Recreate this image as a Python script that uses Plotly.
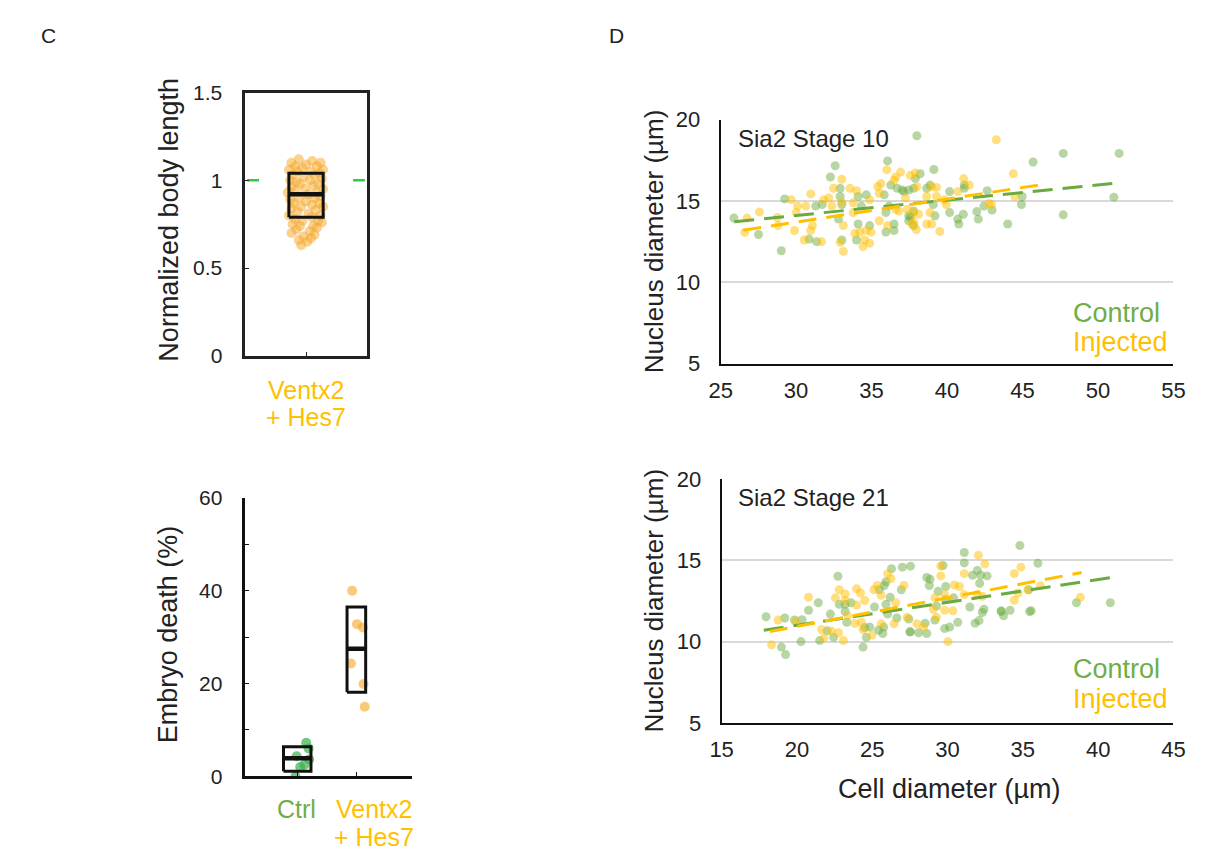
import plotly.graph_objects as go

W, H = 1208, 864
FONT = "Liberation Sans, Arial, sans-serif"
GREEN_TXT = "#70AD47"
GOLD_TXT = "#FFC000"
TXT = "#222222"

# ---------------- Panel C (top): normalized body length ----------------
body_len = [
    1.12, 1.11, 1.10, 1.10, 1.09, 1.08, 1.08, 1.07, 1.06, 1.06,
    1.05, 1.05, 1.04, 1.03, 1.03, 1.02, 1.01, 1.00, 1.00, 0.99,
    0.98, 0.98, 0.97, 0.96, 0.95, 0.95, 0.94, 0.93, 0.93, 0.92,
    0.91, 0.90, 0.90, 0.89, 0.88, 0.87, 0.87, 0.86, 0.85, 0.85,
    0.84, 0.83, 0.82, 0.81, 0.80, 0.80, 0.79, 0.78, 0.77, 0.77,
    0.76, 0.75, 0.74, 0.74, 0.73, 0.72, 0.71, 0.70, 0.69, 0.68,
    0.67, 0.66, 0.65, 0.63]
body_jit = [
    -0.06, 0.05, -0.12, 0.12, 0.00, -0.09, 0.09, -0.03, 0.14, -0.14,
    0.04, -0.07, 0.11, -0.11, 0.07, -0.02, 0.13, -0.13, 0.03, -0.08,
    0.10, -0.05, 0.06, -0.12, 0.14, -0.01, -0.09, 0.09, -0.15, 0.02,
    0.12, -0.06, 0.07, -0.13, 0.00, 0.11, -0.10, 0.05, -0.04, 0.14,
    -0.12, 0.08, -0.07, 0.02, 0.12, -0.14, 0.05, -0.09, 0.10, -0.03,
    0.13, -0.11, 0.06, -0.05, 0.09, -0.08, 0.03, -0.12, 0.07, -0.02,
    0.04, -0.06, 0.01, -0.04]
body_box = {"q1": 0.79, "median": 0.92, "q3": 1.04}
body_ref = 1.0

# ---------------- Panel C (bottom): embryo death ----------------
death_ctrl = [0.0, 7.2, 6.0, 4.3, 2.5, 3.6, 2.0]
death_ctrl_jit = [-0.03, 0.15, 0.19, -0.01, 0.12, 0.20, 0.05]
death_inj = [40.0, 32.8, 32.1, 24.3, 19.9, 15.0]
death_inj_jit = [-0.08, 0.00, 0.10, -0.10, 0.11, 0.13]
death_box_ctrl = {"q1": 1.1, "median": 3.9, "q3": 6.35}
death_box_inj = {"q1": 18.1, "median": 27.5, "q3": 36.5}

# ---------------- Panel D (top): Stage 10 ----------------
s10_ctrl_x = [25.88, 27.51, 29.24, 29.02, 31.3, 31.73, 30.86, 31.36, 32.27, 32.59,
              32.92, 32.92, 33.03, 32.81, 33.03, 34.11, 34.11, 34.0, 34.32, 34.65,
              34.87, 35.84, 36.06, 36.27, 36.7, 37.03, 36.16, 35.95, 36.49, 36.49,
              35.95, 37.57, 38.0, 38.22, 37.9, 39.13, 38.87, 38.65, 37.14, 37.46,
              37.79, 41.14, 41.14, 40.17, 42.66, 39.09, 37.79, 39.2, 40.17, 37.46,
              37.46, 37.79, 40.71, 40.78, 41.08, 41.97, 42.07, 42.44, 42.98, 44.02,
              44.97, 44.93, 47.7, 51.4, 45.7, 51.05, 47.7]
s10_ctrl_y = [13.95, 12.94, 15.13, 11.94, 14.69, 14.79, 12.66, 12.5, 16.48, 17.17,
              15.78, 15.28, 14.79, 13.89, 12.6, 15.28, 13.59, 12.6, 14.69, 15.38,
              13.49, 15.38, 17.47, 15.98, 15.78, 15.68, 14.69, 14.29, 13.59, 13.19,
              13.09, 13.99, 19.02, 16.68, 16.38, 16.94, 15.98, 15.78, 15.58, 15.68,
              15.78, 15.98, 15.78, 15.58, 15.64, 14.79, 14.39, 14.09, 14.29, 14.09,
              13.79, 13.49, 13.89, 13.59, 14.19, 14.35, 13.89, 14.69, 14.45, 13.59,
              15.28, 14.79, 17.93, 17.93, 17.4, 15.24, 14.15]
s10_inj_x = [26.75, 26.6, 27.57, 29.67, 30.1, 30.0, 28.76, 28.8, 29.89, 30.64,
             30.97, 31.83, 31.08, 30.97, 30.54, 31.68, 33.03, 32.48, 32.16, 32.38,
             33.03, 33.13, 32.92, 33.13, 33.57, 34.0, 33.78, 33.78, 33.89, 34.22,
             34.87, 34.65, 34.97, 34.54, 34.87, 34.43, 35.41, 35.62, 35.51, 36.01,
             36.49, 36.6, 36.92, 37.25, 37.57, 36.6, 35.51, 36.06, 37.79, 37.68,
             43.26, 44.39, 37.9, 38.98, 39.3, 38.0, 41.1, 41.47, 40.71, 38.65,
             39.3, 39.84, 39.95, 36.81, 37.36, 38.11, 38.87, 37.79, 37.96, 38.65,
             38.98, 39.52, 42.77, 42.94, 44.5]
s10_inj_y = [13.95, 13.07, 14.33, 15.08, 14.69, 14.29, 13.99, 13.49, 13.19, 14.69,
             15.44, 15.08, 13.49, 13.19, 12.6, 12.5, 16.34, 15.78, 15.18, 14.69,
             14.93, 13.49, 12.46, 11.9, 15.78, 15.64, 14.89, 14.29, 13.0, 13.09,
             15.08, 13.19, 13.09, 12.6, 12.4, 12.2, 15.88, 16.08, 15.48, 16.92,
             16.28, 16.48, 16.78, 15.18, 16.58, 14.49, 13.79, 13.49, 14.29, 13.59,
             18.77, 16.68, 16.72, 15.88, 15.84, 15.88, 16.38, 15.98, 15.58, 15.28,
             15.28, 15.08, 14.79, 14.39, 14.49, 14.19, 14.29, 13.69, 13.23, 13.59,
             13.59, 13.13, 14.85, 14.79, 15.28]
s10_trend_ctrl_x = [25.9, 51.6]
s10_trend_ctrl_y = [13.73, 16.14]
s10_trend_inj_x = [26.5, 46.45]
s10_trend_inj_y = [13.2, 16.04]

# ---------------- Panel D (bottom): Stage 21 ----------------
s21_ctrl_x = [17.95, 19.19, 18.97, 19.25, 19.84, 20.34, 20.27, 20.77, 21.42, 21.51,
              22.01, 22.44, 22.22, 22.72, 22.81, 23.2, 23.59, 23.2, 23.31, 24.5,
              24.83, 24.61, 24.39, 25.15, 25.48, 25.8, 25.91, 26.28, 26.19, 25.91,
              26.02, 25.41, 25.76, 25.7, 26.63, 27.0, 27.54, 26.93, 27.54,
              34.8, 31.11, 31.11, 31.66, 31.98, 32.2, 32.13, 32.63, 29.7, 28.62,
              28.84, 28.79, 29.38, 29.88, 30.4, 29.88, 29.27, 31.48, 32.42, 32.31,
              33.56, 34.15, 35.45, 29.16, 30.68, 29.81, 30.14, 28.51, 28.62, 28.08,
              27.49, 27.43, 31.83, 32.09, 36.0, 35.39, 33.57, 33.72, 35.56, 38.56, 40.81]
s21_ctrl_y = [11.53, 11.45, 9.66, 9.2, 11.33, 11.35, 10.0, 11.93, 12.39, 10.06,
              10.66, 10.26, 11.69, 14.02, 12.29, 12.29, 12.39, 11.85, 11.19, 10.86,
              10.89, 10.26, 9.66, 12.13, 13.19, 13.45, 13.68, 14.48, 12.73, 12.29,
              11.69, 10.7, 10.89, 10.5, 11.45, 14.58, 14.64, 13.19, 10.6,
              15.91, 15.48, 14.84, 14.08, 14.38, 14.08, 13.58, 14.04, 14.68, 13.94,
              13.84, 13.45, 13.09, 13.39, 12.69, 12.59, 12.19, 12.13, 11.99, 11.79,
              11.85, 11.93, 11.85, 11.33, 11.19, 10.8, 10.89, 11.13, 10.5, 10.54,
              10.6, 11.39, 11.13, 11.29, 14.82, 13.19, 11.89, 11.59, 11.89, 12.39, 12.39]
s21_inj_x = [18.75, 18.32, 19.95, 20.77, 21.64, 21.79, 22.29, 22.77, 23.09, 22.55,
             22.81, 23.2, 23.2, 23.37, 23.96, 24.22, 23.96, 24.5, 23.85, 24.28,
             24.39, 24.98, 25.11, 25.33, 25.59, 26.02, 26.24, 25.59, 26.45, 26.56,
             27.1, 27.32, 32.05, 32.48, 31.11, 34.87, 34.43, 29.55, 29.55, 30.46,
             30.79, 31.11, 29.81, 29.16, 29.05, 29.81, 30.35, 31.98, 32.31, 34.69,
             35.34, 29.27, 28.4, 27.97, 30.03, 36.17, 34.43, 38.82]
s21_inj_y = [11.33, 9.8, 11.25, 12.73, 10.74, 10.2, 10.64, 10.54, 10.06, 12.69,
             13.19, 12.93, 12.53, 11.59, 13.25, 12.99, 12.25, 12.53, 11.13, 11.19,
             10.74, 10.4, 13.19, 13.45, 12.85, 14.18, 13.88, 11.09, 11.09, 12.39,
             13.45, 11.49, 15.32, 14.78, 14.18, 14.58, 14.18, 14.64, 14.04, 13.48,
             13.39, 12.89, 12.89, 12.69, 11.99, 11.93, 11.89, 12.89, 12.79, 12.99,
             13.19, 11.49, 10.89, 11.09, 10.0, 13.43, 12.55, 12.73]
s21_trend_ctrl_x = [17.8, 40.9]
s21_trend_ctrl_y = [10.7, 13.95]
s21_trend_inj_x = [18.2, 38.9]
s21_trend_inj_y = [10.62, 14.25]

# ============================================================
fig = go.Figure()

def box_path(center, half, st):
    xs = [center - half, center + half, center + half, center - half, center - half]
    ys = [st["q1"], st["q1"], st["q3"], st["q3"], st["q1"]]
    return xs, ys

# --- C top
fig.add_trace(go.Scatter(
    x=[1 + j for j in body_jit], y=body_len, mode="markers",
    marker=dict(size=10, color="rgba(245,166,35,0.5)", line=dict(width=0)),
    xaxis="x", yaxis="y"))
bx, by = box_path(1, 0.141, body_box)
fig.add_trace(go.Scatter(x=bx, y=by, mode="lines", line=dict(color="#111111", width=3),
                         xaxis="x", yaxis="y"))
fig.add_trace(go.Scatter(x=[1 - 0.141, 1 + 0.141], y=[body_box["median"]] * 2, mode="lines",
                         line=dict(color="#111111", width=4.5), xaxis="x", yaxis="y"))
fig.add_trace(go.Scatter(x=[0.516, 0.613, None, 1.387, 1.484],
                         y=[body_ref, body_ref, None, body_ref, body_ref], mode="lines",
                         line=dict(color="#2ECC40", width=2.5), xaxis="x", yaxis="y"))

# --- C bottom
fig.add_trace(go.Scatter(
    x=[1 + j for j in death_ctrl_jit], y=death_ctrl, mode="markers",
    marker=dict(size=10, color="rgba(60,175,80,0.7)", line=dict(width=0)),
    xaxis="x2", yaxis="y2"))
fig.add_trace(go.Scatter(
    x=[2 + j for j in death_inj_jit], y=death_inj, mode="markers",
    marker=dict(size=10, color="rgba(245,166,35,0.6)", line=dict(width=0)),
    xaxis="x2", yaxis="y2"))
for c, half, st in [(1, 0.23, death_box_ctrl), (1.99, 0.156, death_box_inj)]:
    bx, by = box_path(c, half, st)
    fig.add_trace(go.Scatter(x=bx, y=by, mode="lines", line=dict(color="#111111", width=3),
                             xaxis="x2", yaxis="y2"))
    fig.add_trace(go.Scatter(x=[c - half, c + half], y=[st["median"]] * 2, mode="lines",
                             line=dict(color="#111111", width=4.5), xaxis="x2", yaxis="y2"))

# --- D panels
CTRL_PT = "rgba(112,173,71,0.5)"
INJ_PT = "rgba(255,192,0,0.5)"
for (cx, cy, ix, iy, tcx, tcy, tix, tiy, xa, ya) in [
    (s10_ctrl_x, s10_ctrl_y, s10_inj_x, s10_inj_y, s10_trend_ctrl_x, s10_trend_ctrl_y,
     s10_trend_inj_x, s10_trend_inj_y, "x3", "y3"),
    (s21_ctrl_x, s21_ctrl_y, s21_inj_x, s21_inj_y, s21_trend_ctrl_x, s21_trend_ctrl_y,
     s21_trend_inj_x, s21_trend_inj_y, "x4", "y4")]:
    fig.add_trace(go.Scatter(x=cx, y=cy, mode="markers",
                             marker=dict(size=9, color=CTRL_PT, line=dict(width=0)),
                             xaxis=xa, yaxis=ya))
    fig.add_trace(go.Scatter(x=ix, y=iy, mode="markers",
                             marker=dict(size=9, color=INJ_PT, line=dict(width=0)),
                             xaxis=xa, yaxis=ya))
    fig.add_trace(go.Scatter(x=tcx, y=tcy, mode="lines",
                             line=dict(color="#6AAA3F", width=3, dash="20px,10px"),
                             xaxis=xa, yaxis=ya))
    fig.add_trace(go.Scatter(x=tix, y=tiy, mode="lines",
                             line=dict(color="#FFC000", width=3, dash="18px,10px"),
                             xaxis=xa, yaxis=ya))

def px(x):
    return x / W

def py(y):
    return 1 - y / H

tickfont = dict(family=FONT, size=21, color=TXT)

fig.update_layout(
    width=W, height=H, margin=dict(l=0, r=0, t=0, b=0),
    paper_bgcolor="white", plot_bgcolor="white", showlegend=False,
    font=dict(family=FONT, color=TXT),
    xaxis=dict(domain=[px(238), px(362)], range=[0.5, 1.5], anchor="y",
               showline=True, mirror=True, linecolor="#222222", linewidth=2.5,
               tickvals=[1], ticktext=[""], ticks="inside", ticklen=4, tickcolor="#222222",
               showgrid=False, zeroline=False, fixedrange=True),
    yaxis=dict(domain=[py(354), py(83)], range=[0, 1.5], anchor="x",
               showline=True, mirror=True, linecolor="#222222", linewidth=2.5,
               tickvals=[0, 0.5, 1, 1.5], ticktext=["0", "0.5", "1", "1.5"],
               ticks="inside", ticklen=4, tickcolor="#222222", tickfont=tickfont,
               ticklabelstandoff=16, showgrid=False, zeroline=False),
    xaxis2=dict(domain=[px(238), px(408)], range=[0.13, 2.92], anchor="y2",
                showline=True, linecolor="#111111", linewidth=2.5,
                tickvals=[1, 2], ticktext=["", ""], ticks="inside", ticklen=4,
                tickcolor="#111111", showgrid=False, zeroline=False),
    yaxis2=dict(domain=[py(787), py(500.5)], range=[0, 60], anchor="x2",
                showline=True, linecolor="#111111", linewidth=2.5,
                tickvals=[0, 10, 20, 30, 40, 50, 60],
                ticktext=["0", "", "20", "", "40", "", "60"],
                ticks="inside", ticklen=4, tickcolor="#111111", tickfont=tickfont,
                ticklabelstandoff=16, showgrid=False, zeroline=False),
    xaxis3=dict(domain=[px(723), px(1185)], range=[25, 55], anchor="y3", dtick=5,
                showline=True, linecolor="#111111", linewidth=2, ticks="",
                tickfont=dict(family=FONT, size=22, color=TXT), ticklabelstandoff=6,
                showgrid=False, zeroline=False),
    yaxis3=dict(domain=[py(362), py(111)], range=[5, 20], anchor="x3", dtick=5,
                showline=True, linecolor="#111111", linewidth=2, ticks="",
                tickfont=dict(family=FONT, size=22, color=TXT), ticklabelstandoff=14,
                showgrid=True, gridcolor="#D9D9D9", gridwidth=2, zeroline=False),
    xaxis4=dict(domain=[px(724), px(1185)], range=[15, 45], anchor="y4", dtick=5,
                showline=True, linecolor="#111111", linewidth=2, ticks="",
                tickfont=dict(family=FONT, size=22, color=TXT), ticklabelstandoff=6,
                showgrid=False, zeroline=False),
    yaxis4=dict(domain=[py(732), py(481)], range=[5, 20], anchor="x4", dtick=5,
                showline=True, linecolor="#111111", linewidth=2, ticks="",
                tickfont=dict(family=FONT, size=22, color=TXT), ticklabelstandoff=14,
                showgrid=True, gridcolor="#D9D9D9", gridwidth=2, zeroline=False),
)

def ann(text, x, y, size, color=TXT, angle=0, xanchor="center"):
    fig.add_annotation(text=text, x=px(x), y=py(y), xref="paper", yref="paper",
                       showarrow=False, textangle=angle, xanchor=xanchor, yanchor="middle",
                       font=dict(family=FONT, size=size, color=color))

ann("C", 37, 24, 21)
ann("D", 617, 24, 21)
ann("Normalized body length", 160, 214, 27, angle=-90)
ann("Embryo death (%)", 160, 641, 27, angle=-90)
ann("Nucleus diameter (µm)", 655, 236, 26, angle=-90)
ann("Nucleus diameter (µm)", 655, 606, 26, angle=-90)
ann("Cell diameter (µm)", 957, 800, 27)
ann("Ventx2", 300, 389, 25, color=GOLD_TXT)
ann("+ Hes7", 300, 417, 25, color=GOLD_TXT)
ann("Ctrl", 290, 821, 25, color=GREEN_TXT)
ann("Ventx2", 369, 821, 25, color=GOLD_TXT)
ann("+ Hes7", 369, 850, 25, color=GOLD_TXT)
ann("Sia2 Stage 10", 739, 130, 24, xanchor="left")
ann("Sia2 Stage 21", 739, 500, 24, xanchor="left")
ann("Control", 1080, 310, 27, color=GREEN_TXT, xanchor="left")
ann("Injected", 1080, 340, 27, color=GOLD_TXT, xanchor="left")
ann("Control", 1080, 677, 27, color=GREEN_TXT, xanchor="left")
ann("Injected", 1080, 707, 27, color=GOLD_TXT, xanchor="left")

fig.write_html("out.html")
